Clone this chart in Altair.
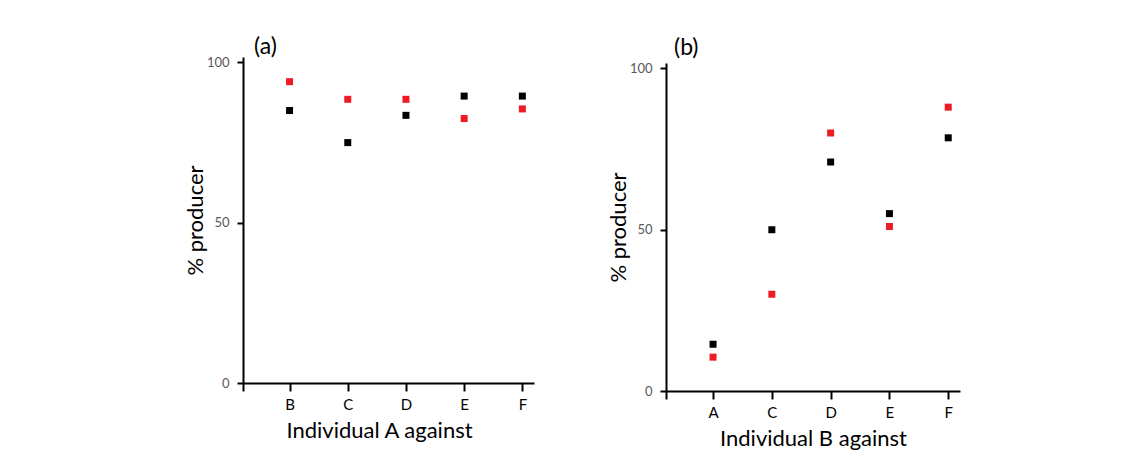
import altair as alt
import pandas as pd

cats_a = ["B", "C", "D", "E", "F"]
black_a = [85, 75, 83.5, 89.5, 89.5]
red_a = [94, 88.5, 88.5, 82.5, 85.5]

cats_b = ["A", "C", "D", "E", "F"]
black_b = [14.5, 50, 71, 55, 78.5]
red_b = [10.5, 30, 80, 51, 88]

y_ticks = [0, 50, 100]
series_names = ["black", "red"]
series_colors = ["#000000", "#ED1C24"]

FONT = "Lato"


def panel(cats, black, red, label, xtitle, w, h, top_gap, xtitle_x, title_dx):
    rows = []
    for i, c in enumerate(cats):
        rows.append({"idx": i, "cat": c, "series": "black", "value": black[i]})
        rows.append({"idx": i, "cat": c, "series": "red", "value": red[i]})
    df = pd.DataFrame(rows)
    lab_arr = "[" + ",".join(f"'{c}'" for c in cats) + "]"
    x = alt.X(
        "idx:Q",
        scale=alt.Scale(domain=[-0.8, 4.2], nice=False, zero=False),
        axis=alt.Axis(
            values=[-0.8, 0, 1, 2, 3, 4],
            labelExpr=f"datum.value < 0 ? '' : {lab_arr}[round(datum.value)]",
            grid=False,
            domainColor="black",
            domainWidth=2,
            tickColor="black",
            tickWidth=2,
            tickSize=8,
            labelFont=FONT,
            labelFontSize=15,
            labelColor="black",
            labelPadding=6,
            title=xtitle,
            titleFont=FONT,
            titleFontSize=22,
            titleFontWeight="normal",
            titleColor="black",
            titlePadding=8,
            titleX=xtitle_x,
        ),
    )
    y = alt.Y(
        "value:Q",
        scale=alt.Scale(domain=[0, 101.7], nice=False, range=[h, top_gap]),
        axis=alt.Axis(
            values=y_ticks,
            grid=False,
            domainColor="black",
            domainWidth=2,
            tickColor="black",
            tickWidth=2,
            tickSize=6,
            labelFont=FONT,
            labelFontSize=13,
            labelColor="#595959",
            labelPadding=8,
            title="% producer",
            titleFont=FONT,
            titleFontSize=22,
            titleFontWeight="normal",
            titleColor="black",
            titlePadding=-1,
        ),
    )
    return (
        alt.Chart(df)
        .mark_square(size=49, opacity=1)
        .encode(
            x=x,
            y=y,
            color=alt.Color(
                "series:N",
                scale=alt.Scale(domain=series_names, range=series_colors),
                legend=None,
            ),
        )
        .properties(
            width=w,
            height=h,
            title=alt.TitleParams(
                label,
                anchor="start",
                frame="group",
                dx=title_dx,
                offset=-3,
                font=FONT,
                fontSize=23,
                fontWeight="normal",
                color="black",
            ),
        )
    )


pa = panel(cats_a, black_a, red_a, "(a)", "Individual A against", 291, 326, 0, 136, 11)
pb = panel(cats_b, black_b, red_b, "(b)", "Individual B against", 294, 334, 6, 147, 8)

chart = (
    alt.hconcat(pa, pb, spacing=73)
    .properties(
        padding={"left": 176, "top": 28, "right": 5, "bottom": 5},
        background="white",
    )
    .configure_view(stroke="transparent", strokeWidth=0)
)

chart.save("out.html", embed_options={"renderer": "svg", "actions": False})
